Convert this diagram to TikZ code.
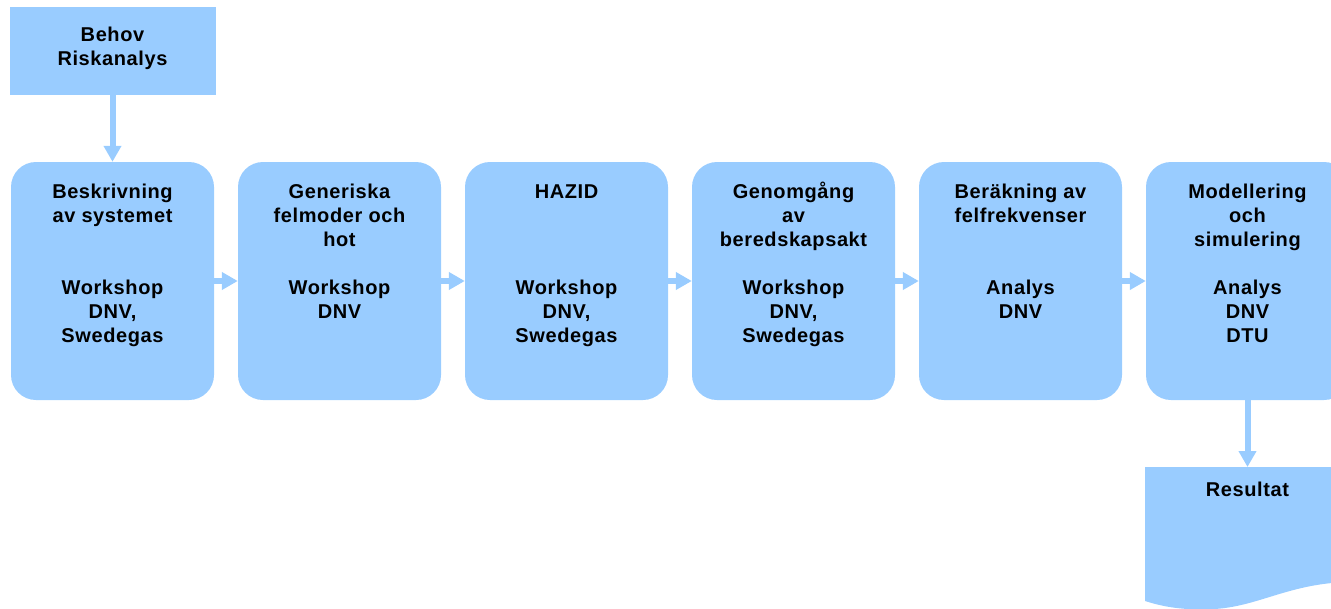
\documentclass[tikz,border=0pt]{standalone}
\usepackage{fontspec}
\setmainfont{Liberation Sans}[LetterSpace=3]
\usetikzlibrary{arrows.meta}
\definecolor{boxblue}{RGB}{153,204,255}
\begin{document}
\begin{tikzpicture}[x=1pt,y=-1pt,
  flow/.style={draw=none,fill=boxblue,rounded corners=25pt,minimum width=203pt,minimum height=238pt,inner sep=0pt},
  topbox/.style={draw=none,fill=boxblue,minimum width=206pt,minimum height=88pt,inner sep=0pt},
  lbl/.style={anchor=north,align=center,inner sep=0pt,font=\fontsize{20}{24}\selectfont\bfseries,text=black},
  conn/.style={draw=boxblue,line width=6pt,-{Triangle[length=16pt,width=17pt]}}]
\useasboundingbox (0,0) rectangle (1331,608);
\clip (0,0) rectangle (1331,608);

\node[topbox] (top) at (112.5,51) {};
\node[flow] (b1) at (112.5,281) {};
\node[flow] (b2) at (339.5,281) {};
\node[flow] (b3) at (566.5,281) {};
\node[flow] (b4) at (793.5,281) {};
\node[flow] (b5) at (1020.5,281) {};
\node[flow] (b6) at (1247.5,281) {};

\fill[boxblue] (1145,467) -- (1350,467) -- (1350,582) .. controls (1290,583) and (1260,606) .. (1215,609) .. controls (1190,610) and (1170,609) .. (1145,601) -- cycle;
\coordinate (doc) at (1247.5,467);

\node[lbl] (t0) at ([yshift=-17.2pt]top.north) {\strut Behov\\Riskanalys};
\node[lbl] (t1) at ([yshift=-19.2pt]b1.north) {\strut Beskrivning\\av systemet\\[48pt]Workshop\\DNV,\\Swedegas};
\node[lbl] (t2) at ([yshift=-19.2pt]b2.north) {\strut Generiska\\felmoder och\\hot\\[24pt]Workshop\\DNV};
\node[lbl] (t3) at ([yshift=-19.2pt]b3.north) {\strut HAZID\\[72pt]Workshop\\DNV,\\Swedegas};
\node[lbl] (t4) at ([yshift=-19.2pt]b4.north) {\strut Genomgång\\av\\beredskapsakt\\[24pt]Workshop\\DNV,\\Swedegas};
\node[lbl] (t5) at ([yshift=-19.2pt]b5.north) {\strut Beräkning av\\felfrekvenser\\[48pt]Analys\\DNV};
\node[lbl] (t6) at ([yshift=-19.2pt]b6.north) {\strut Modellering\\och\\simulering\\[24pt]Analys\\DNV\\DTU};
\node[lbl] (tr) at ([yshift=-12.2pt]doc) {\strut Resultat};

\draw[conn] (top.south) -- (b1.north);
\draw[conn] (b1.east) -- (b2.west);
\draw[conn] (b2.east) -- (b3.west);
\draw[conn] (b3.east) -- (b4.west);
\draw[conn] (b4.east) -- (b5.west);
\draw[conn] (b5.east) -- (b6.west);
\draw[conn] (b6.south) -- (doc);
\end{tikzpicture}
\end{document}
